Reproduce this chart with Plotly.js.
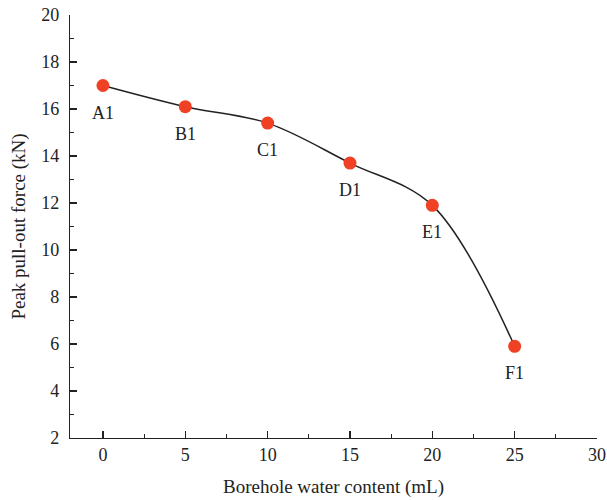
<!DOCTYPE html>
<html>
<head>
<meta charset="utf-8">
<script src="https://cdn.plot.ly/plotly-3.0.1.min.js"></script>
<style>html,body{margin:0;padding:0;background:#fff;}#chart{width:607px;height:500px;}</style>
</head>
<body>
<div id="chart"></div>
<script>
const waterContent = [0, 5, 10, 15, 20, 25];
const peakForce = [17.0, 16.1, 15.4, 13.7, 11.9, 5.9];
const pointLabels = ['A1', 'B1', 'C1', 'D1', 'E1', 'F1'];

const fontFam = '"Liberation Serif", "DejaVu Serif", serif';

const trace = {
  x: waterContent,
  y: peakForce,
  mode: 'lines+markers',
  type: 'scatter',
  line: {shape: 'spline', smoothing: 1, color: '#222', width: 1.5},
  marker: {size: 13, color: '#f04124'},
  cliponaxis: false,
  hoverinfo: 'none'
};

const annotations = waterContent.map((xv, i) => ({
  x: xv, y: peakForce[i], text: pointLabels[i], showarrow: false,
  xref: 'x', yref: 'y', yshift: -27,
  font: {family: fontFam, size: 18, color: '#222'}
}));

const layout = {
  width: 607,
  height: 500,
  margin: {l: 70, r: 10, t: 15, b: 62},
  paper_bgcolor: '#fff',
  plot_bgcolor: '#fff',
  showlegend: false,
  annotations: annotations,
  font: {family: fontFam, size: 18, color: '#222'},
  xaxis: {
    range: [-2, 30],
    tickvals: [0, 5, 10, 15, 20, 25, 30],
    ticks: 'inside',
    ticklen: 7,
    tickwidth: 1.2,
    tickcolor: '#222',
    showline: true,
    linecolor: '#222',
    linewidth: 1.2,
    showgrid: false,
    zeroline: false,
    minor: {ticks: 'inside', dtick: 2.5, tick0: 0, ticklen: 4, tickcolor: '#222', tickwidth: 1.2, showgrid: false},
    title: {text: 'Borehole water content (mL)', font: {family: fontFam, size: 19, color: '#222'}, standoff: 16},
    tickfont: {family: fontFam, size: 18, color: '#222'}
  },
  yaxis: {
    range: [2, 20],
    tickvals: [2, 4, 6, 8, 10, 12, 14, 16, 18, 20],
    ticks: 'inside',
    ticklen: 7,
    tickwidth: 1.2,
    tickcolor: '#222',
    showline: true,
    linecolor: '#222',
    linewidth: 1.2,
    showgrid: false,
    zeroline: false,
    ticklabelstandoff: 6,
    minor: {ticks: 'inside', dtick: 1, tick0: 0, ticklen: 4, tickcolor: '#222', tickwidth: 1.2, showgrid: false},
    title: {text: 'Peak pull-out force (kN)', font: {family: fontFam, size: 19, color: '#222'}, standoff: 10},
    tickfont: {family: fontFam, size: 18, color: '#222'}
  }
};

Plotly.newPlot('chart', [trace], layout, {displayModeBar: false, staticPlot: true});
</script>
</body>
</html>
